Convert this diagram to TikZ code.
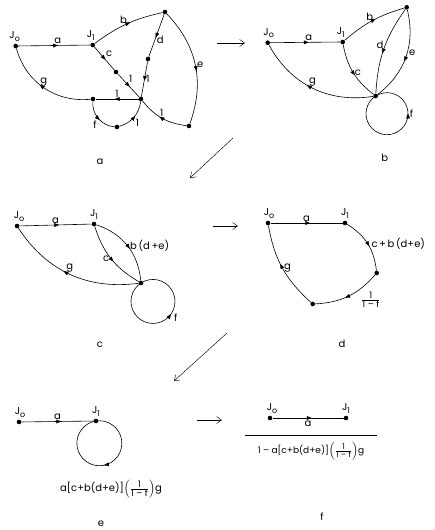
\documentclass[tikz,border=0pt]{standalone}
\usepackage{fontspec}
\setmainfont{Poppins}
\usetikzlibrary{arrows.meta,decorations.markings,positioning}

\newcommand{\Jo}{J\raisebox{-0.45ex}{\footnotesize o}}
\newcommand{\Ji}{J\raisebox{-0.45ex}{\footnotesize 1}}
\newcommand{\invf}{\frac{\hbox{\small 1}}{\hbox{\small 1 -- f}}}
\newcommand{\invfs}{\frac{\hbox{\footnotesize 1}}{\hbox{\footnotesize 1 -- f}}}

\begin{document}
\begin{tikzpicture}[
    x=1pt, y=-1pt,
    font=\normalsize,
    dot/.style={circle, fill=black, inner sep=0pt, minimum size=4.6pt},
    flow/.style={line width=0.6pt, postaction={decorate, decoration={markings,
        mark=at position #1 with {\arrow{Triangle[length=4.8pt,width=3.8pt]}}}}},
    flow/.default=0.55,
    lab/.style={inner sep=1.5pt},
    jlab/.style={inner sep=0pt},
    capt/.style={font=\normalsize},
    move/.style={-{Straight Barb[length=5pt,width=7pt]}, line width=0.45pt},
]
    \useasboundingbox (0,0) rectangle (434,530);

    % --- Panel a: full graph ---
    \node[dot] (a0) at (15.7,46) {};
    \node[dot] (a1) at (92.7,45) {};
    \node[dot] (aT) at (165,12) {};
    \node[dot] (aM) at (116,72) {};
    \node[dot] (aD) at (148,59) {};
    \node[dot] (aC) at (141,99) {};
    \node[dot] (aE) at (189,126) {};
    \node[dot] (aG) at (93,99) {};
    \node[dot] (aF) at (117,127) {};
    \node[jlab, above=2pt of a0, xshift=-1pt] (a0l) {\Jo};
    \node[jlab, above=2pt of a1, xshift=-2pt] (a1l) {\Ji};

    \draw[flow] (a0) -- (a1) node[lab, pos=.55, above] {a};
    \draw[flow] (a1) to[bend left=12] node[lab, pos=.45, above] {b} (aT);
    \draw[flow] (a1) -- (aM) node[lab, pos=.5, above right] {c};
    \draw[flow] (aM) -- (aC) node[lab, pos=.45, above right] {1};
    \draw[flow] (aT) -- (aD) node[lab, pos=.6, right] {d};
    \draw[flow] (aD) -- (aC) node[lab, pos=.5, right] {1};
    \draw[flow] (aT) to[bend left=32] node[lab, pos=.5, right] {e} (aE);
    \draw[flow] (aE) to[bend left=22] node[lab, pos=.5, above] {1} (aC);
    \draw[flow] (aC) -- (aG) node[lab, pos=.5, above] {1};
    \draw[flow] (aG) to[bend left=40] node[lab, pos=.5, above] {g} (a0);
    \draw[flow] (aG) to[bend right=45] node[lab, pos=.5, below left] {f} (aF);
    \draw[flow] (aF) to[bend right=33] node[lab, pos=.5, below right] {1} (aC);
    \node[capt] (capa) at (100,162) {a};

    % --- Panel b: first reduction ---
    \node[dot] (b0) at (267.7,42.7) {};
    \node[dot] (b1) at (342.7,42) {};
    \node[dot] (bT) at (406.7,7.3) {};
    \node[dot] (bC) at (375.7,96) {};
    \node[jlab, above=2pt of b0, xshift=1pt] (b0l) {\Jo};
    \node[jlab, above=2pt of b1, xshift=-2pt] (b1l) {\Ji};

    \draw[flow] (b0) -- (b1) node[lab, pos=.55, above] {a};
    \draw[flow] (b1) to[bend left=12] node[lab, pos=.45, above] {b} (bT);
    \draw[flow] (bT) to[bend right=16] node[lab, pos=.45, left] {d} (bC);
    \draw[flow] (bT) to[bend left=33] node[lab, pos=.45, right] {e} (bC);
    \draw[flow] (b1) to[bend right=21] node[lab, pos=.5, right] {c} (bC);
    \draw[flow] (bC) to[bend left=35] node[lab, pos=.5, above] {g} (b0);
    \draw[flow=.66] (bC) arc[start angle=237.4, end angle=-122.6, radius=21]
        node[lab, pos=.66, right] {f};
    \node[capt] (capb) at (384.7,158) {b};

    % --- Panel c: d and e combined ---
    \node[dot] (c0) at (17,226) {};
    \node[dot] (c1) at (94,224) {};
    \node[dot] (cC) at (141,283) {};
    \node[jlab, above=2pt of c0, xshift=2pt] (c0l) {\Jo};
    \node[jlab, above=2pt of c1] (c1l) {\Ji};

    \draw[flow] (c0) -- (c1) node[lab, pos=.5, above] {a};
    \draw[flow] (c1) to[bend left=33] node[lab, pos=.5, right, xshift=1pt] {b\,(d\,+e)} (cC);
    \draw[flow] (c1) to[bend right=21] node[lab, pos=.5, left] {c} (cC);
    \draw[flow] (cC) to[bend left=32] node[lab, pos=.5, above] {g} (c0);
    \draw[flow=.56] (cC) arc[start angle=237, end angle=-123, radius=22]
        node[lab, pos=.58, below right] {f};
    \node[capt] (capc) at (100,345) {c};

    % --- Panel d: loop removed ---
    \node[dot] (d0) at (268,223) {};
    \node[dot] (d1) at (345,223) {};
    \node[dot] (dN1) at (376.7,273) {};
    \node[dot] (dN2) at (312.7,304) {};
    \node[jlab, above=2pt of d0, xshift=1pt] (d0l) {\Jo};
    \node[jlab, above=2pt of d1] (d1l) {\Ji};

    \draw[flow] (d0) -- (d1) node[lab, pos=.5, above] {a};
    \draw[flow] (d1) to[bend left=26] node[lab, pos=.5, right, xshift=2pt] {c\,+\,b\,(d+e)} (dN1);
    \draw[flow] (dN1) to[bend left=23] node[lab, pos=.3, below right, yshift=-1pt] {$\invf$} (dN2);
    \draw[flow] (dN2) to[bend left=19] node[lab, pos=.5, right] {g} (d0);
    \node[capt] (capd) at (342,344) {d};

    % --- Panel e: single loop at J1 ---
    \node[dot] (e0) at (19,422) {};
    \node[dot] (e1) at (96,421) {};
    \node[jlab, above=2pt of e0, xshift=1pt] (e0l) {\Jo};
    \node[jlab, above=2pt of e1] (e1l) {\Ji};

    \draw[flow] (e0) -- (e1) node[lab, pos=.5, above] {a};
    \draw[flow=.49] (e1) arc[start angle=261.4, end angle=621.4, radius=22.5];
    \node (eexpr) at (111,489) {a[c+b(d+e)]$\left(\invf\right)$g};
    \node[capt] (cape) at (101,524) {e};

    % --- Panel f: result ---
    \node[dot] (f0) at (270,418) {};
    \node[dot] (f1) at (346,418) {};
    \node[jlab, above=2pt of f0, xshift=2pt] (f0l) {\Jo};
    \node[jlab, above=2pt of f1] (f1l) {\Ji};

    \draw[flow] (f0) -- (f1) node[lab, pos=.5, below=1pt] {a};
    \coordinate (barL) at (245,435);
    \coordinate (barR) at (377,435);
    \draw[line width=0.6pt] (barL) -- (barR);
    \node[font=\small] (fexpr) at (311,451) {1 -- a[c+b(d+e)]$\left(\invfs\right)$g};
    \node[capt] (capf) at (322,517) {f};

    % --- Arrows between panels ---
    \coordinate (ab1) at (217,43);   \coordinate (ab2) at (245,43);
    \coordinate (bc1) at (233,138);  \coordinate (bc2) at (190,178);
    \coordinate (cd1) at (213,226);  \coordinate (cd2) at (238,226);
    \coordinate (de1) at (227,333);  \coordinate (de2) at (174,381);
    \coordinate (ef1) at (197,420);  \coordinate (ef2) at (222,420);
    \draw[move] (ab1) -- (ab2);
    \draw[move] (bc1) -- (bc2);
    \draw[move] (cd1) -- (cd2);
    \draw[move] (de1) -- (de2);
    \draw[move] (ef1) -- (ef2);
\end{tikzpicture}
\end{document}
